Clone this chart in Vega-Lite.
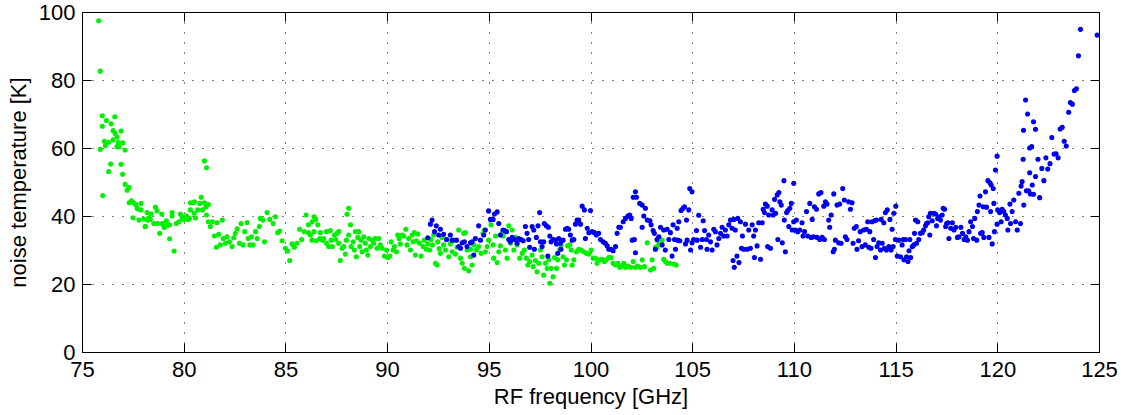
{
  "$schema": "https://vega.github.io/schema/vega-lite/v6.json",
  "width": 1017,
  "height": 340,
  "autosize": {"type": "none"},
  "padding": {"left": 82, "top": 12, "right": 23, "bottom": 63},
  "background": "white",
  "config": {
    "view": {"stroke": "black", "strokeWidth": 1},
    "axis": {
      "labelFont": "Liberation Sans",
      "labelFontSize": 22,
      "labelColor": "black",
      "labelFlush": false,
      "labelOverlap": false,
      "titleFont": "Liberation Sans",
      "titleFontSize": 22,
      "titleFontWeight": "normal",
      "titleColor": "black",
      "gridColor": "black",
      "gridDash": [1, 9],
      "gridOpacity": 1,
      "gridWidth": 1,
      "tickColor": "black",
      "tickWidth": 1,
      "domain": false
    }
  },
  "data": {"values": [
{"f":75.82,"T":97.4,"s":"g"},{"f":75.90,"T":82.6,"s":"g"},{"f":76.00,"T":69.5,"s":"g"},{"f":76.00,"T":66.4,"s":"g"},{"f":76.20,"T":68.1,"s":"g"},{"f":76.43,"T":67.1,"s":"g"},{"f":76.61,"T":69.2,"s":"g"},{"f":76.10,"T":62.0,"s":"g"},{"f":76.31,"T":61.7,"s":"g"},{"f":76.15,"T":60.7,"s":"g"},{"f":76.53,"T":62.4,"s":"g"},{"f":76.53,"T":65.1,"s":"g"},{"f":76.63,"T":64.3,"s":"g"},{"f":76.72,"T":63.2,"s":"g"},{"f":76.92,"T":65.0,"s":"g"},{"f":76.79,"T":61.7,"s":"g"},{"f":76.72,"T":60.4,"s":"g"},{"f":76.82,"T":60.4,"s":"g"},{"f":77.00,"T":61.5,"s":"g"},{"f":77.12,"T":59.4,"s":"g"},{"f":75.90,"T":59.6,"s":"g"},{"f":76.02,"T":46.0,"s":"g"},{"f":76.31,"T":53.1,"s":"g"},{"f":76.41,"T":55.3,"s":"g"},{"f":76.92,"T":55.2,"s":"g"},{"f":77.00,"T":52.3,"s":"g"},{"f":77.12,"T":49.3,"s":"g"},{"f":77.22,"T":47.6,"s":"g"},{"f":77.32,"T":48.4,"s":"g"},{"f":77.32,"T":43.9,"s":"g"},{"f":77.43,"T":44.5,"s":"g"},{"f":77.54,"T":43.9,"s":"g"},{"f":77.64,"T":43.4,"s":"g"},{"f":77.74,"T":42.1,"s":"g"},{"f":77.90,"T":43.7,"s":"g"},{"f":77.90,"T":41.8,"s":"g"},{"f":77.51,"T":39.5,"s":"g"},{"f":77.80,"T":38.8,"s":"g"},{"f":78.03,"T":39.1,"s":"g"},{"f":78.12,"T":36.9,"s":"g"},{"f":78.20,"T":41.0,"s":"g"},{"f":78.28,"T":39.5,"s":"g"},{"f":78.40,"T":40.6,"s":"g"},{"f":78.36,"T":39.0,"s":"g"},{"f":78.61,"T":42.6,"s":"g"},{"f":78.53,"T":37.8,"s":"g"},{"f":78.69,"T":41.5,"s":"g"},{"f":78.72,"T":37.8,"s":"g"},{"f":78.82,"T":34.9,"s":"g"},{"f":78.92,"T":40.6,"s":"g"},{"f":78.94,"T":37.8,"s":"g"},{"f":79.05,"T":36.6,"s":"g"},{"f":79.15,"T":38.6,"s":"g"},{"f":79.21,"T":37.3,"s":"g"},{"f":79.31,"T":33.3,"s":"g"},{"f":79.43,"T":41.0,"s":"g"},{"f":79.43,"T":40.0,"s":"g"},{"f":79.53,"T":29.7,"s":"g"},{"f":79.64,"T":37.8,"s":"g"},{"f":79.76,"T":38.3,"s":"g"},{"f":79.84,"T":40.6,"s":"g"},{"f":79.92,"T":39.6,"s":"g"},{"f":80.00,"T":39.0,"s":"g"},{"f":80.13,"T":40.0,"s":"g"},{"f":80.22,"T":39.0,"s":"g"},{"f":80.33,"T":43.9,"s":"g"},{"f":80.33,"T":41.8,"s":"g"},{"f":80.46,"T":43.9,"s":"g"},{"f":80.51,"T":40.8,"s":"g"},{"f":80.58,"T":39.4,"s":"g"},{"f":80.69,"T":41.8,"s":"g"},{"f":80.79,"T":43.7,"s":"g"},{"f":80.86,"T":45.5,"s":"g"},{"f":80.92,"T":41.8,"s":"g"},{"f":81.02,"T":56.2,"s":"g"},{"f":81.12,"T":54.2,"s":"g"},{"f":81.02,"T":43.9,"s":"g"},{"f":81.10,"T":42.7,"s":"g"},{"f":81.21,"T":43.4,"s":"g"},{"f":81.12,"T":40.3,"s":"g"},{"f":81.21,"T":38.3,"s":"g"},{"f":81.31,"T":36.9,"s":"g"},{"f":81.41,"T":38.3,"s":"g"},{"f":81.51,"T":34.1,"s":"g"},{"f":81.61,"T":30.8,"s":"g"},{"f":81.64,"T":38.0,"s":"g"},{"f":81.72,"T":34.6,"s":"g"},{"f":81.80,"T":31.5,"s":"g"},{"f":81.90,"T":38.8,"s":"g"},{"f":81.94,"T":33.4,"s":"g"},{"f":82.05,"T":32.0,"s":"g"},{"f":82.13,"T":33.9,"s":"g"},{"f":82.25,"T":32.4,"s":"g"},{"f":82.38,"T":31.0,"s":"g"},{"f":82.46,"T":33.6,"s":"g"},{"f":82.54,"T":34.9,"s":"g"},{"f":82.63,"T":36.2,"s":"g"},{"f":82.74,"T":32.0,"s":"g"},{"f":82.82,"T":37.8,"s":"g"},{"f":82.92,"T":31.5,"s":"g"},{"f":83.00,"T":35.4,"s":"g"},{"f":83.12,"T":38.1,"s":"g"},{"f":83.17,"T":33.4,"s":"g"},{"f":83.25,"T":31.5,"s":"g"},{"f":83.33,"T":33.9,"s":"g"},{"f":83.41,"T":31.5,"s":"g"},{"f":83.53,"T":35.4,"s":"g"},{"f":83.61,"T":33.4,"s":"g"},{"f":83.72,"T":36.9,"s":"g"},{"f":83.77,"T":39.3,"s":"g"},{"f":83.90,"T":38.8,"s":"g"},{"f":83.97,"T":32.4,"s":"g"},{"f":84.10,"T":41.0,"s":"g"},{"f":84.23,"T":39.0,"s":"g"},{"f":84.40,"T":37.8,"s":"g"},{"f":84.51,"T":39.8,"s":"g"},{"f":84.62,"T":35.1,"s":"g"},{"f":84.72,"T":35.6,"s":"g"},
{"f":77.71,"T":42.3,"s":"g"},{"f":78.10,"T":36.9,"s":"g"},{"f":78.23,"T":38.8,"s":"g"},{"f":78.97,"T":37.6,"s":"g"},{"f":79.30,"T":37.4,"s":"g"},{"f":79.95,"T":39.3,"s":"g"},{"f":80.12,"T":39.8,"s":"g"},{"f":80.28,"T":39.3,"s":"g"},{"f":80.53,"T":44.2,"s":"g"},
{"f":84.84,"T":32.7,"s":"g"},{"f":85.00,"T":30.5,"s":"g"},{"f":85.11,"T":29.7,"s":"g"},{"f":85.21,"T":26.9,"s":"g"},{"f":85.33,"T":31.8,"s":"g"},{"f":85.44,"T":30.8,"s":"g"},{"f":85.57,"T":32.0,"s":"g"},{"f":85.70,"T":36.1,"s":"g"},{"f":85.80,"T":33.1,"s":"g"},{"f":85.93,"T":35.4,"s":"g"},{"f":86.02,"T":40.3,"s":"g"},{"f":86.13,"T":35.1,"s":"g"},{"f":86.13,"T":37.4,"s":"g"},{"f":86.23,"T":34.4,"s":"g"},{"f":86.31,"T":32.9,"s":"g"},{"f":86.31,"T":38.3,"s":"g"},{"f":86.41,"T":39.8,"s":"g"},{"f":86.41,"T":35.4,"s":"g"},{"f":86.49,"T":39.0,"s":"g"},{"f":86.52,"T":32.7,"s":"g"},{"f":86.59,"T":37.4,"s":"g"},{"f":86.69,"T":33.4,"s":"g"},{"f":86.72,"T":35.1,"s":"g"},{"f":86.82,"T":32.9,"s":"g"},{"f":86.88,"T":33.4,"s":"g"},{"f":87.02,"T":32.0,"s":"g"},{"f":87.02,"T":35.4,"s":"g"},{"f":87.13,"T":31.0,"s":"g"},{"f":87.21,"T":35.7,"s":"g"},{"f":87.25,"T":32.9,"s":"g"},{"f":87.31,"T":31.0,"s":"g"},{"f":87.41,"T":34.4,"s":"g"},{"f":87.47,"T":33.1,"s":"g"},{"f":87.54,"T":34.9,"s":"g"},{"f":87.62,"T":35.4,"s":"g"},{"f":87.62,"T":32.0,"s":"g"},{"f":87.70,"T":26.9,"s":"g"},{"f":87.79,"T":30.5,"s":"g"},{"f":87.87,"T":31.0,"s":"g"},{"f":87.95,"T":28.8,"s":"g"},{"f":88.00,"T":32.9,"s":"g"},{"f":88.03,"T":40.5,"s":"g"},{"f":88.11,"T":42.3,"s":"g"},{"f":88.11,"T":34.4,"s":"g"},{"f":88.20,"T":37.4,"s":"g"},{"f":88.23,"T":31.0,"s":"g"},{"f":88.33,"T":32.4,"s":"g"},{"f":88.39,"T":30.0,"s":"g"},{"f":88.44,"T":35.4,"s":"g"},{"f":88.49,"T":28.0,"s":"g"},{"f":88.56,"T":33.7,"s":"g"},{"f":88.60,"T":35.4,"s":"g"},{"f":88.65,"T":31.0,"s":"g"},{"f":88.72,"T":32.9,"s":"g"},{"f":88.77,"T":29.5,"s":"g"},{"f":88.85,"T":33.9,"s":"g"},{"f":88.93,"T":32.0,"s":"g"},{"f":88.98,"T":30.0,"s":"g"},{"f":89.05,"T":28.5,"s":"g"},{"f":89.10,"T":33.4,"s":"g"},{"f":89.18,"T":31.0,"s":"g"},{"f":89.26,"T":32.9,"s":"g"},{"f":89.34,"T":32.0,"s":"g"},{"f":89.42,"T":33.4,"s":"g"},{"f":89.51,"T":30.5,"s":"g"},{"f":89.59,"T":33.4,"s":"g"},{"f":89.67,"T":31.5,"s":"g"},{"f":89.75,"T":30.5,"s":"g"},{"f":89.87,"T":28.2,"s":"g"},{"f":89.97,"T":30.0,"s":"g"},{"f":90.03,"T":27.8,"s":"g"},{"f":90.13,"T":28.2,"s":"g"},{"f":90.20,"T":32.4,"s":"g"},{"f":90.30,"T":30.0,"s":"g"},{"f":90.36,"T":31.0,"s":"g"},{"f":90.46,"T":29.5,"s":"g"},{"f":90.52,"T":34.4,"s":"g"},{"f":90.59,"T":33.4,"s":"g"},{"f":90.65,"T":31.8,"s":"g"},{"f":90.74,"T":34.4,"s":"g"},{"f":90.82,"T":34.1,"s":"g"},{"f":90.92,"T":36.1,"s":"g"},{"f":90.98,"T":31.5,"s":"g"},{"f":91.06,"T":33.4,"s":"g"},{"f":91.15,"T":30.0,"s":"g"},{"f":91.23,"T":34.4,"s":"g"},{"f":91.28,"T":32.4,"s":"g"},{"f":91.34,"T":35.1,"s":"g"},{"f":91.39,"T":28.5,"s":"g"},{"f":91.44,"T":32.7,"s":"g"},{"f":91.51,"T":34.7,"s":"g"},{"f":91.60,"T":32.0,"s":"g"},{"f":91.67,"T":28.2,"s":"g"},{"f":91.77,"T":31.0,"s":"g"},{"f":91.83,"T":32.9,"s":"g"},{"f":91.93,"T":30.2,"s":"g"},{"f":92.00,"T":31.8,"s":"g"},{"f":92.09,"T":30.0,"s":"g"},{"f":92.16,"T":33.1,"s":"g"},{"f":92.23,"T":31.5,"s":"g"},{"f":92.29,"T":34.4,"s":"g"},{"f":92.38,"T":26.1,"s":"g"},{"f":92.46,"T":25.6,"s":"g"},{"f":92.49,"T":32.4,"s":"g"},{"f":92.56,"T":30.4,"s":"g"},{"f":92.62,"T":29.0,"s":"g"},{"f":92.70,"T":33.7,"s":"g"},{"f":92.78,"T":31.5,"s":"g"},{"f":92.87,"T":30.0,"s":"g"},{"f":92.95,"T":33.1,"s":"g"},{"f":93.03,"T":28.0,"s":"g"},{"f":93.11,"T":31.8,"s":"g"},{"f":93.20,"T":29.5,"s":"g"},{"f":93.28,"T":32.9,"s":"g"},{"f":93.36,"T":28.8,"s":"g"},{"f":93.44,"T":30.8,"s":"g"},{"f":93.52,"T":35.9,"s":"g"},{"f":93.61,"T":27.6,"s":"g"},{"f":93.69,"T":26.1,"s":"g"},{"f":93.77,"T":34.9,"s":"g"},{"f":93.80,"T":24.6,"s":"g"},{"f":93.85,"T":35.1,"s":"g"},{"f":93.93,"T":30.0,"s":"g"},{"f":94.01,"T":23.9,"s":"g"},{"f":94.10,"T":28.0,"s":"g"},
{"f":94.10,"T":30.2,"s":"g"},{"f":94.18,"T":25.6,"s":"g"},{"f":94.26,"T":31.5,"s":"g"},{"f":94.39,"T":30.0,"s":"g"},{"f":94.50,"T":31.0,"s":"g"},{"f":94.62,"T":29.0,"s":"g"},{"f":94.72,"T":34.9,"s":"g"},{"f":94.78,"T":35.9,"s":"g"},{"f":94.83,"T":29.5,"s":"g"},{"f":94.92,"T":31.0,"s":"g"},{"f":94.99,"T":32.9,"s":"g"},{"f":95.11,"T":37.4,"s":"g"},{"f":95.21,"T":31.5,"s":"g"},{"f":95.24,"T":27.6,"s":"g"},{"f":95.33,"T":34.1,"s":"g"},{"f":95.41,"T":26.3,"s":"g"},{"f":95.49,"T":29.5,"s":"g"},{"f":95.57,"T":31.2,"s":"g"},{"f":95.66,"T":35.1,"s":"g"},{"f":95.70,"T":34.1,"s":"g"},{"f":95.82,"T":30.0,"s":"g"},{"f":95.90,"T":27.6,"s":"g"},{"f":95.98,"T":37.1,"s":"g"},{"f":96.06,"T":32.0,"s":"g"},{"f":96.15,"T":35.9,"s":"g"},{"f":96.23,"T":30.0,"s":"g"},{"f":96.31,"T":33.7,"s":"g"},{"f":96.39,"T":31.5,"s":"g"},{"f":96.47,"T":33.1,"s":"g"},{"f":96.52,"T":27.6,"s":"g"},{"f":96.64,"T":29.0,"s":"g"},{"f":96.75,"T":30.0,"s":"g"},{"f":96.85,"T":27.6,"s":"g"},{"f":96.92,"T":25.6,"s":"g"},{"f":97.01,"T":26.6,"s":"g"},{"f":97.13,"T":28.5,"s":"g"},{"f":97.18,"T":25.1,"s":"g"},{"f":97.29,"T":26.9,"s":"g"},{"f":97.37,"T":23.6,"s":"g"},{"f":97.46,"T":26.1,"s":"g"},{"f":97.54,"T":30.0,"s":"g"},{"f":97.62,"T":28.0,"s":"g"},{"f":97.70,"T":22.6,"s":"g"},{"f":97.78,"T":26.1,"s":"g"},{"f":97.87,"T":24.6,"s":"g"},{"f":97.95,"T":27.1,"s":"g"},{"f":98.00,"T":20.2,"s":"g"},{"f":98.06,"T":24.6,"s":"g"},{"f":98.16,"T":22.1,"s":"g"},{"f":98.23,"T":27.8,"s":"g"},{"f":98.33,"T":24.6,"s":"g"},{"f":98.39,"T":27.1,"s":"g"},{"f":98.49,"T":30.2,"s":"g"},{"f":98.55,"T":31.5,"s":"g"},{"f":98.65,"T":28.0,"s":"g"},{"f":98.72,"T":25.6,"s":"g"},{"f":98.82,"T":27.1,"s":"g"},{"f":98.88,"T":31.2,"s":"g"},{"f":98.98,"T":31.5,"s":"g"},{"f":99.05,"T":30.0,"s":"g"},{"f":99.10,"T":25.6,"s":"g"},{"f":99.18,"T":27.1,"s":"g"},{"f":99.31,"T":29.5,"s":"g"},{"f":99.42,"T":30.2,"s":"g"},{"f":99.54,"T":30.0,"s":"g"},{"f":99.67,"T":29.5,"s":"g"},{"f":99.80,"T":29.0,"s":"g"},{"f":99.92,"T":28.8,"s":"g"},{"f":100.03,"T":30.0,"s":"g"},{"f":100.13,"T":27.6,"s":"g"},{"f":100.24,"T":27.6,"s":"g"},{"f":100.32,"T":26.1,"s":"g"},{"f":100.45,"T":27.1,"s":"g"},{"f":100.57,"T":27.3,"s":"g"},{"f":100.68,"T":26.6,"s":"g"},{"f":100.78,"T":27.1,"s":"g"},{"f":100.90,"T":27.8,"s":"g"},{"f":101.01,"T":27.8,"s":"g"},{"f":101.11,"T":26.1,"s":"g"},{"f":101.23,"T":25.6,"s":"g"},{"f":101.34,"T":26.1,"s":"g"},{"f":101.44,"T":24.9,"s":"g"},{"f":101.56,"T":25.3,"s":"g"},{"f":101.64,"T":26.1,"s":"g"},{"f":101.72,"T":24.9,"s":"g"},{"f":101.84,"T":25.3,"s":"g"},{"f":101.97,"T":24.9,"s":"g"},{"f":102.10,"T":26.6,"s":"g"},{"f":102.21,"T":24.9,"s":"g"},{"f":102.32,"T":25.3,"s":"g"},{"f":102.45,"T":24.9,"s":"g"},{"f":102.54,"T":27.1,"s":"g"},{"f":102.65,"T":25.1,"s":"g"},{"f":102.79,"T":32.1,"s":"g"},{"f":102.95,"T":24.1,"s":"g"},{"f":103.03,"T":27.1,"s":"g"},{"f":103.11,"T":24.6,"s":"g"},{"f":103.19,"T":30.8,"s":"g"},{"f":103.27,"T":30.8,"s":"g"},{"f":103.36,"T":31.8,"s":"g"},{"f":103.52,"T":32.9,"s":"g"},{"f":103.60,"T":27.3,"s":"g"},{"f":103.68,"T":26.6,"s":"g"},{"f":103.77,"T":26.1,"s":"g"},{"f":103.90,"T":26.1,"s":"g"},{"f":104.10,"T":25.9,"s":"g"},{"f":104.21,"T":25.6,"s":"g"},
{"f":92.00,"T":33.6,"s":"b"},{"f":92.13,"T":37.6,"s":"b"},{"f":92.21,"T":38.8,"s":"b"},{"f":92.33,"T":35.4,"s":"b"},{"f":92.42,"T":37.1,"s":"b"},{"f":92.54,"T":34.4,"s":"b"},{"f":92.62,"T":36.1,"s":"b"},{"f":92.78,"T":34.6,"s":"b"},{"f":92.92,"T":33.1,"s":"b"},{"f":93.11,"T":34.4,"s":"b"},{"f":93.20,"T":32.9,"s":"b"},{"f":93.41,"T":32.9,"s":"b"},{"f":93.52,"T":31.0,"s":"b"},{"f":93.61,"T":30.5,"s":"b"},{"f":93.69,"T":32.1,"s":"b"},{"f":93.80,"T":32.4,"s":"b"},{"f":93.93,"T":31.0,"s":"b"},{"f":94.10,"T":32.1,"s":"b"},
{"f":94.18,"T":32.4,"s":"b"},{"f":94.26,"T":28.5,"s":"b"},{"f":94.34,"T":33.4,"s":"b"},{"f":94.50,"T":37.1,"s":"b"},{"f":94.59,"T":32.9,"s":"b"},{"f":94.75,"T":34.4,"s":"b"},{"f":94.83,"T":35.9,"s":"b"},{"f":94.99,"T":41.5,"s":"b"},{"f":95.08,"T":39.0,"s":"b"},{"f":95.21,"T":39.0,"s":"b"},{"f":95.28,"T":40.6,"s":"b"},{"f":95.41,"T":41.2,"s":"b"},{"f":95.49,"T":37.8,"s":"b"},{"f":95.57,"T":34.4,"s":"b"},{"f":95.70,"T":35.9,"s":"b"},{"f":95.78,"T":35.7,"s":"b"},{"f":95.87,"T":35.4,"s":"b"},{"f":95.98,"T":33.1,"s":"b"},{"f":96.06,"T":32.4,"s":"b"},{"f":96.15,"T":33.7,"s":"b"},{"f":96.26,"T":33.1,"s":"b"},{"f":96.39,"T":32.0,"s":"b"},{"f":96.47,"T":33.4,"s":"b"},{"f":96.59,"T":33.1,"s":"b"},{"f":96.69,"T":32.7,"s":"b"},{"f":96.80,"T":36.9,"s":"b"},{"f":96.88,"T":34.9,"s":"b"},{"f":96.96,"T":33.1,"s":"b"},{"f":97.01,"T":30.8,"s":"b"},{"f":97.13,"T":36.9,"s":"b"},{"f":97.21,"T":35.9,"s":"b"},{"f":97.24,"T":30.2,"s":"b"},{"f":97.34,"T":33.7,"s":"b"},{"f":97.42,"T":37.1,"s":"b"},{"f":97.50,"T":41.0,"s":"b"},{"f":97.54,"T":32.4,"s":"b"},{"f":97.62,"T":31.0,"s":"b"},{"f":97.70,"T":32.4,"s":"b"},{"f":97.73,"T":37.8,"s":"b"},{"f":97.83,"T":37.1,"s":"b"},{"f":97.93,"T":36.7,"s":"b"},{"f":97.90,"T":28.2,"s":"b"},{"f":98.00,"T":34.1,"s":"b"},{"f":98.06,"T":32.4,"s":"b"},{"f":98.16,"T":33.1,"s":"b"},{"f":98.28,"T":32.9,"s":"b"},{"f":98.33,"T":31.8,"s":"b"},{"f":98.39,"T":29.0,"s":"b"},{"f":98.44,"T":33.4,"s":"b"},{"f":98.52,"T":32.0,"s":"b"},{"f":98.55,"T":30.2,"s":"b"},{"f":98.65,"T":32.9,"s":"b"},{"f":98.77,"T":36.1,"s":"b"},{"f":98.85,"T":36.4,"s":"b"},{"f":98.93,"T":36.1,"s":"b"},{"f":99.01,"T":34.4,"s":"b"},{"f":99.10,"T":32.9,"s":"b"},{"f":99.18,"T":33.1,"s":"b"},{"f":99.26,"T":37.6,"s":"b"},{"f":99.34,"T":38.8,"s":"b"},{"f":99.42,"T":38.8,"s":"b"},{"f":99.51,"T":37.6,"s":"b"},{"f":99.59,"T":42.9,"s":"b"},{"f":99.70,"T":41.8,"s":"b"},{"f":99.75,"T":33.4,"s":"b"},{"f":99.84,"T":36.4,"s":"b"},{"f":99.92,"T":35.1,"s":"b"},{"f":100.00,"T":41.6,"s":"b"},{"f":100.08,"T":35.4,"s":"b"},{"f":100.19,"T":35.1,"s":"b"},{"f":100.29,"T":34.4,"s":"b"},{"f":100.40,"T":34.9,"s":"b"},{"f":100.49,"T":33.1,"s":"b"},{"f":100.62,"T":32.4,"s":"b"},{"f":100.73,"T":32.0,"s":"b"},{"f":100.82,"T":31.2,"s":"b"},{"f":100.90,"T":30.2,"s":"b"},{"f":101.01,"T":30.2,"s":"b"},{"f":101.11,"T":29.8,"s":"b"},{"f":101.23,"T":31.0,"s":"b"},{"f":101.31,"T":34.9,"s":"b"},{"f":101.39,"T":36.7,"s":"b"},{"f":101.47,"T":36.7,"s":"b"},{"f":101.61,"T":38.3,"s":"b"},{"f":101.72,"T":39.3,"s":"b"},{"f":101.84,"T":40.0,"s":"b"},{"f":101.93,"T":40.3,"s":"b"},{"f":102.00,"T":39.3,"s":"b"},{"f":102.05,"T":32.9,"s":"b"},{"f":102.10,"T":45.5,"s":"b"},{"f":102.16,"T":33.1,"s":"b"},{"f":102.21,"T":47.1,"s":"b"},{"f":102.26,"T":45.5,"s":"b"},{"f":102.21,"T":29.2,"s":"b"},{"f":102.42,"T":43.7,"s":"b"},{"f":102.54,"T":43.2,"s":"b"},{"f":102.54,"T":36.7,"s":"b"},{"f":102.62,"T":40.0,"s":"b"},{"f":102.70,"T":42.3,"s":"b"},{"f":102.79,"T":38.8,"s":"b"},{"f":102.92,"T":38.6,"s":"b"},{"f":102.98,"T":37.4,"s":"b"},{"f":103.08,"T":35.7,"s":"b"},{"f":103.14,"T":34.9,"s":"b"},{"f":103.19,"T":30.2,"s":"b"},{"f":103.27,"T":33.1,"s":"b"},{"f":103.36,"T":33.9,"s":"b"},
{"f":103.44,"T":36.7,"s":"b"},{"f":103.52,"T":31.5,"s":"b"},{"f":103.60,"T":35.9,"s":"b"},{"f":103.68,"T":30.0,"s":"b"},{"f":103.77,"T":36.1,"s":"b"},{"f":103.85,"T":33.1,"s":"b"},{"f":103.93,"T":35.1,"s":"b"},{"f":104.01,"T":28.2,"s":"b"},{"f":104.06,"T":37.4,"s":"b"},{"f":104.13,"T":33.1,"s":"b"},{"f":104.18,"T":30.2,"s":"b"},{"f":104.26,"T":36.4,"s":"b"},{"f":104.29,"T":32.9,"s":"b"},{"f":104.34,"T":38.3,"s":"b"},{"f":104.39,"T":32.7,"s":"b"},{"f":104.45,"T":41.6,"s":"b"},{"f":104.55,"T":42.3,"s":"b"},{"f":104.62,"T":42.7,"s":"b"},{"f":104.67,"T":31.8,"s":"b"},{"f":104.72,"T":38.8,"s":"b"},{"f":104.75,"T":32.9,"s":"b"},{"f":104.83,"T":41.8,"s":"b"},{"f":104.88,"T":48.1,"s":"b"},{"f":104.92,"T":30.0,"s":"b"},{"f":104.99,"T":47.1,"s":"b"},{"f":104.99,"T":32.1,"s":"b"},{"f":105.07,"T":33.1,"s":"b"},{"f":105.21,"T":35.7,"s":"b"},{"f":105.24,"T":32.9,"s":"b"},{"f":105.32,"T":40.2,"s":"b"},{"f":105.41,"T":30.8,"s":"b"},{"f":105.49,"T":33.1,"s":"b"},{"f":105.54,"T":38.6,"s":"b"},{"f":105.61,"T":35.7,"s":"b"},{"f":105.70,"T":33.1,"s":"b"},{"f":105.73,"T":30.2,"s":"b"},{"f":105.81,"T":34.4,"s":"b"},{"f":105.90,"T":32.4,"s":"b"},{"f":105.98,"T":30.0,"s":"b"},{"f":106.06,"T":36.1,"s":"b"},{"f":106.14,"T":35.4,"s":"b"},{"f":106.22,"T":31.5,"s":"b"},{"f":106.31,"T":33.4,"s":"b"},{"f":106.39,"T":34.9,"s":"b"},{"f":106.47,"T":36.7,"s":"b"},{"f":106.55,"T":34.1,"s":"b"},{"f":106.63,"T":35.9,"s":"b"},{"f":106.72,"T":34.1,"s":"b"},{"f":106.80,"T":37.4,"s":"b"},{"f":106.88,"T":38.8,"s":"b"},{"f":106.96,"T":36.4,"s":"b"},{"f":107.01,"T":26.9,"s":"b"},{"f":107.04,"T":39.0,"s":"b"},{"f":107.07,"T":24.9,"s":"b"},{"f":107.12,"T":35.9,"s":"b"},{"f":107.20,"T":28.2,"s":"b"},{"f":107.24,"T":39.3,"s":"b"},{"f":107.30,"T":26.3,"s":"b"},{"f":107.37,"T":38.3,"s":"b"},{"f":107.42,"T":30.5,"s":"b"},{"f":107.47,"T":34.1,"s":"b"},{"f":107.53,"T":30.2,"s":"b"},{"f":107.62,"T":37.6,"s":"b"},{"f":107.70,"T":30.2,"s":"b"},{"f":107.78,"T":35.9,"s":"b"},{"f":107.86,"T":30.5,"s":"b"},{"f":107.95,"T":37.4,"s":"b"},{"f":108.02,"T":34.1,"s":"b"},{"f":108.06,"T":27.8,"s":"b"},{"f":108.11,"T":35.9,"s":"b"},{"f":108.19,"T":31.2,"s":"b"},{"f":108.27,"T":38.0,"s":"b"},{"f":108.36,"T":27.3,"s":"b"},{"f":108.44,"T":38.0,"s":"b"},{"f":108.49,"T":42.0,"s":"b"},{"f":108.55,"T":41.0,"s":"b"},{"f":108.60,"T":43.5,"s":"b"},{"f":108.69,"T":42.9,"s":"b"},{"f":108.71,"T":31.0,"s":"b"},{"f":108.76,"T":40.3,"s":"b"},{"f":108.85,"T":30.5,"s":"b"},{"f":108.93,"T":41.8,"s":"b"},{"f":108.98,"T":40.3,"s":"b"},{"f":109.05,"T":44.9,"s":"b"},{"f":109.10,"T":40.8,"s":"b"},{"f":109.18,"T":46.2,"s":"b"},{"f":109.21,"T":33.1,"s":"b"},{"f":109.26,"T":46.9,"s":"b"},{"f":109.31,"T":44.2,"s":"b"},{"f":109.38,"T":43.2,"s":"b"},{"f":109.43,"T":32.1,"s":"b"},{"f":109.51,"T":50.4,"s":"b"},{"f":109.53,"T":38.8,"s":"b"},{"f":109.58,"T":29.5,"s":"b"},{"f":109.64,"T":41.0,"s":"b"},{"f":109.70,"T":41.6,"s":"b"},{"f":109.75,"T":36.9,"s":"b"},{"f":109.80,"T":42.3,"s":"b"},{"f":109.87,"T":43.7,"s":"b"},{"f":109.92,"T":35.9,"s":"b"},{"f":109.99,"T":49.6,"s":"b"},{"f":109.99,"T":38.3,"s":"b"},{"f":110.07,"T":35.9,"s":"b"},{"f":110.12,"T":38.8,"s":"b"},{"f":110.19,"T":35.4,"s":"b"},{"f":110.29,"T":35.9,"s":"b"},{"f":110.40,"T":38.0,"s":"b"},{"f":110.45,"T":34.1,"s":"b"},{"f":110.52,"T":35.4,"s":"b"},{"f":110.62,"T":41.3,"s":"b"},{"f":110.68,"T":34.1,"s":"b"},{"f":110.78,"T":43.7,"s":"b"},{"f":110.85,"T":33.7,"s":"b"},{"f":110.90,"T":39.0,"s":"b"},{"f":110.97,"T":33.9,"s":"b"},{"f":111.01,"T":42.7,"s":"b"},{"f":111.11,"T":42.0,"s":"b"},{"f":111.14,"T":33.7,"s":"b"},{"f":111.22,"T":46.5,"s":"b"},{"f":111.27,"T":33.1,"s":"b"},{"f":111.33,"T":46.9,"s":"b"},{"f":111.39,"T":33.7,"s":"b"},{"f":111.47,"T":42.9,"s":"b"},{"f":111.50,"T":33.1,"s":"b"},{"f":111.55,"T":44.2,"s":"b"},{"f":111.63,"T":43.5,"s":"b"},{"f":111.71,"T":38.8,"s":"b"},{"f":111.76,"T":36.7,"s":"b"},{"f":111.83,"T":40.3,"s":"b"},{"f":111.93,"T":29.5,"s":"b"},{"f":111.96,"T":46.5,"s":"b"},{"f":111.99,"T":30.2,"s":"b"},{"f":112.04,"T":32.9,"s":"b"},{"f":112.12,"T":43.2,"s":"b"},{"f":112.20,"T":32.1,"s":"b"},{"f":112.25,"T":43.5,"s":"b"},{"f":112.32,"T":32.0,"s":"b"},{"f":112.40,"T":48.1,"s":"b"},{"f":112.48,"T":44.7,"s":"b"},{"f":112.53,"T":33.9,"s":"b"},{"f":112.61,"T":33.1,"s":"b"},{"f":112.69,"T":44.2,"s":"b"},
{"f":112.78,"T":42.0,"s":"b"},{"f":112.86,"T":43.9,"s":"b"},{"f":112.91,"T":32.0,"s":"b"},{"f":112.97,"T":36.4,"s":"b"},{"f":113.07,"T":36.9,"s":"b"},{"f":113.10,"T":30.2,"s":"b"},{"f":113.18,"T":32.7,"s":"b"},{"f":113.26,"T":35.4,"s":"b"},{"f":113.35,"T":31.0,"s":"b"},{"f":113.43,"T":35.9,"s":"b"},{"f":113.51,"T":31.5,"s":"b"},{"f":113.56,"T":36.1,"s":"b"},{"f":113.63,"T":38.3,"s":"b"},{"f":113.68,"T":30.8,"s":"b"},{"f":113.73,"T":35.4,"s":"b"},{"f":113.79,"T":30.5,"s":"b"},{"f":113.84,"T":38.3,"s":"b"},{"f":113.92,"T":33.1,"s":"b"},{"f":113.96,"T":38.6,"s":"b"},{"f":114.01,"T":27.8,"s":"b"},{"f":114.06,"T":38.8,"s":"b"},{"f":114.09,"T":31.0,"s":"b"},{"f":114.17,"T":32.1,"s":"b"},{"f":114.26,"T":30.0,"s":"b"},{"f":114.29,"T":39.0,"s":"b"},{"f":114.34,"T":32.0,"s":"b"},{"f":114.42,"T":38.0,"s":"b"},{"f":114.45,"T":30.5,"s":"b"},{"f":114.50,"T":41.0,"s":"b"},{"f":114.55,"T":30.0,"s":"b"},{"f":114.59,"T":41.8,"s":"b"},{"f":114.67,"T":31.0,"s":"b"},{"f":114.72,"T":39.0,"s":"b"},{"f":114.78,"T":30.0,"s":"b"},{"f":114.83,"T":36.1,"s":"b"},{"f":114.88,"T":31.0,"s":"b"},{"f":114.91,"T":40.8,"s":"b"},{"f":114.99,"T":33.1,"s":"b"},{"f":115.01,"T":42.9,"s":"b"},{"f":115.08,"T":28.2,"s":"b"},{"f":115.16,"T":32.9,"s":"b"},{"f":115.24,"T":28.0,"s":"b"},{"f":115.32,"T":31.5,"s":"b"},{"f":115.38,"T":33.1,"s":"b"},{"f":115.41,"T":27.1,"s":"b"},{"f":115.49,"T":33.1,"s":"b"},{"f":115.54,"T":28.0,"s":"b"},{"f":115.61,"T":26.6,"s":"b"},{"f":115.66,"T":29.8,"s":"b"},{"f":115.70,"T":33.1,"s":"b"},{"f":115.74,"T":27.8,"s":"b"},{"f":115.82,"T":31.0,"s":"b"},{"f":115.90,"T":31.5,"s":"b"},{"f":115.93,"T":34.9,"s":"b"},{"f":115.98,"T":38.8,"s":"b"},{"f":116.03,"T":32.0,"s":"b"},{"f":116.09,"T":38.3,"s":"b"},{"f":116.14,"T":33.1,"s":"b"},{"f":116.22,"T":34.9,"s":"b"},{"f":116.31,"T":35.1,"s":"b"},{"f":116.38,"T":35.9,"s":"b"},{"f":116.47,"T":37.1,"s":"b"},{"f":116.52,"T":37.8,"s":"b"},{"f":116.58,"T":38.0,"s":"b"},{"f":116.63,"T":39.8,"s":"b"},{"f":116.68,"T":34.4,"s":"b"},{"f":116.71,"T":40.8,"s":"b"},{"f":116.80,"T":38.6,"s":"b"},{"f":116.88,"T":40.8,"s":"b"},{"f":116.96,"T":40.6,"s":"b"},{"f":117.01,"T":37.1,"s":"b"},{"f":117.07,"T":39.3,"s":"b"},{"f":117.12,"T":39.8,"s":"b"},{"f":117.21,"T":38.8,"s":"b"},{"f":117.29,"T":40.3,"s":"b"},{"f":117.34,"T":42.3,"s":"b"},{"f":117.41,"T":42.0,"s":"b"},{"f":117.46,"T":36.9,"s":"b"},{"f":117.51,"T":37.8,"s":"b"},{"f":117.57,"T":38.0,"s":"b"},{"f":117.62,"T":33.4,"s":"b"},{"f":117.71,"T":36.4,"s":"b"},{"f":117.79,"T":38.0,"s":"b"},{"f":117.87,"T":35.9,"s":"b"},{"f":117.96,"T":36.7,"s":"b"},{"f":118.04,"T":33.7,"s":"b"},{"f":118.12,"T":33.9,"s":"b"},{"f":118.21,"T":36.7,"s":"b"},{"f":118.29,"T":34.9,"s":"b"},{"f":118.37,"T":33.1,"s":"b"},{"f":118.45,"T":33.9,"s":"b"},{"f":118.53,"T":32.9,"s":"b"},{"f":118.61,"T":35.4,"s":"b"},{"f":118.69,"T":38.3,"s":"b"},{"f":118.78,"T":36.9,"s":"b"},{"f":118.83,"T":33.4,"s":"b"},{"f":118.89,"T":39.3,"s":"b"},{"f":118.99,"T":32.9,"s":"b"},{"f":119.02,"T":41.3,"s":"b"},{"f":119.10,"T":43.2,"s":"b"},{"f":119.15,"T":45.9,"s":"b"},{"f":119.18,"T":34.9,"s":"b"},{"f":119.26,"T":35.1,"s":"b"},{"f":119.31,"T":42.7,"s":"b"},{"f":119.34,"T":33.7,"s":"b"},{"f":119.42,"T":47.1,"s":"b"},{"f":119.47,"T":42.6,"s":"b"},{"f":119.54,"T":50.4,"s":"b"},{"f":119.59,"T":33.7,"s":"b"},{"f":119.64,"T":49.8,"s":"b"},{"f":119.67,"T":41.3,"s":"b"},{"f":119.70,"T":49.1,"s":"b"},{"f":119.75,"T":31.8,"s":"b"},{"f":119.80,"T":48.1,"s":"b"},{"f":119.83,"T":43.7,"s":"b"},{"f":119.86,"T":35.4,"s":"b"},{"f":119.91,"T":53.5,"s":"b"},{"f":119.99,"T":57.6,"s":"b"},{"f":119.99,"T":37.6,"s":"b"},{"f":120.02,"T":41.8,"s":"b"},{"f":120.12,"T":41.0,"s":"b"},{"f":120.19,"T":38.3,"s":"b"},{"f":120.24,"T":42.0,"s":"b"},{"f":120.32,"T":41.3,"s":"b"},{"f":120.40,"T":40.3,"s":"b"},{"f":120.49,"T":39.3,"s":"b"},{"f":120.52,"T":35.9,"s":"b"},{"f":120.62,"T":43.5,"s":"b"},{"f":120.65,"T":37.8,"s":"b"},{"f":120.73,"T":41.3,"s":"b"},{"f":120.81,"T":44.7,"s":"b"},{"f":120.90,"T":38.3,"s":"b"},{"f":120.98,"T":35.9,"s":"b"},{"f":121.06,"T":46.7,"s":"b"},{"f":121.14,"T":37.8,"s":"b"},{"f":121.17,"T":48.8,"s":"b"},{"f":121.22,"T":50.1,"s":"b"},{"f":121.27,"T":56.7,"s":"b"},{"f":121.30,"T":43.2,"s":"b"},{"f":121.43,"T":47.4,"s":"b"},{"f":121.54,"T":47.4,"s":"b"},{"f":121.63,"T":46.5,"s":"b"},
{"f":124.09,"T":94.9,"s":"b"},{"f":124.91,"T":93.2,"s":"b"},{"f":123.99,"T":87.1,"s":"b"},{"f":123.89,"T":77.4,"s":"b"},{"f":123.79,"T":76.9,"s":"b"},{"f":123.59,"T":73.4,"s":"b"},{"f":123.69,"T":72.9,"s":"b"},{"f":123.51,"T":70.5,"s":"b"},{"f":123.19,"T":66.1,"s":"b"},{"f":123.09,"T":65.6,"s":"b"},{"f":122.68,"T":63.1,"s":"b"},{"f":123.29,"T":62.0,"s":"b"},{"f":123.39,"T":60.6,"s":"b"},{"f":121.39,"T":74.1,"s":"b"},{"f":121.49,"T":70.0,"s":"b"},{"f":121.78,"T":67.7,"s":"b"},{"f":121.29,"T":65.2,"s":"b"},{"f":121.88,"T":65.5,"s":"b"},{"f":121.69,"T":60.4,"s":"b"},{"f":121.59,"T":60.0,"s":"b"},{"f":122.00,"T":56.7,"s":"b"},{"f":122.39,"T":57.1,"s":"b"},{"f":122.59,"T":55.4,"s":"b"},{"f":122.79,"T":58.2,"s":"b"},{"f":122.89,"T":58.3,"s":"b"},{"f":122.99,"T":57.1,"s":"b"},{"f":122.19,"T":54.0,"s":"b"},{"f":122.48,"T":53.8,"s":"b"},{"f":121.88,"T":51.6,"s":"b"},{"f":122.29,"T":50.4,"s":"b"},{"f":121.72,"T":49.1,"s":"b"},{"f":121.78,"T":46.4,"s":"b"},{"f":122.08,"T":45.4,"s":"b"},{"f":121.59,"T":52.7,"s":"b"}
  ]},
  "layer": [
    {
      "transform": [{"filter": "datum.s === 'g'"}],
      "mark": {"type": "circle", "size": 26, "opacity": 1, "color": "#00f000"},
      "encoding": {
        "x": {"field": "f", "type": "quantitative",
          "scale": {"domain": [75, 125], "nice": false, "zero": false},
          "axis": {"orient": "bottom", "values": [75,80,85,90,95,100,105,110,115,120,125], "title": "RF frequency [GHz]", "grid": true, "tickSize": -9, "labelPadding": 16, "titlePadding": 6}},
        "y": {"field": "T", "type": "quantitative",
          "scale": {"domain": [0, 100], "nice": false, "zero": true},
          "axis": {"orient": "left", "values": [0,20,40,60,80,100], "title": "noise temperature [K]", "grid": true, "tickSize": -9, "labelPadding": 16, "titlePadding": 8}}
      }
    },
    {
      "transform": [{"filter": "datum.s === 'b'"}],
      "mark": {"type": "circle", "size": 26, "opacity": 1, "color": "#0000f0"},
      "encoding": {
        "x": {"field": "f", "type": "quantitative",
          "axis": {"orient": "top", "values": [75,80,85,90,95,100,105,110,115,120,125], "labels": false, "title": null, "grid": false, "tickSize": -9}},
        "y": {"field": "T", "type": "quantitative",
          "axis": {"orient": "right", "values": [0,20,40,60,80,100], "labels": false, "title": null, "grid": false, "tickSize": -9}}
      }
    }
  ],
  "resolve": {"axis": {"x": "independent", "y": "independent"}}
}
